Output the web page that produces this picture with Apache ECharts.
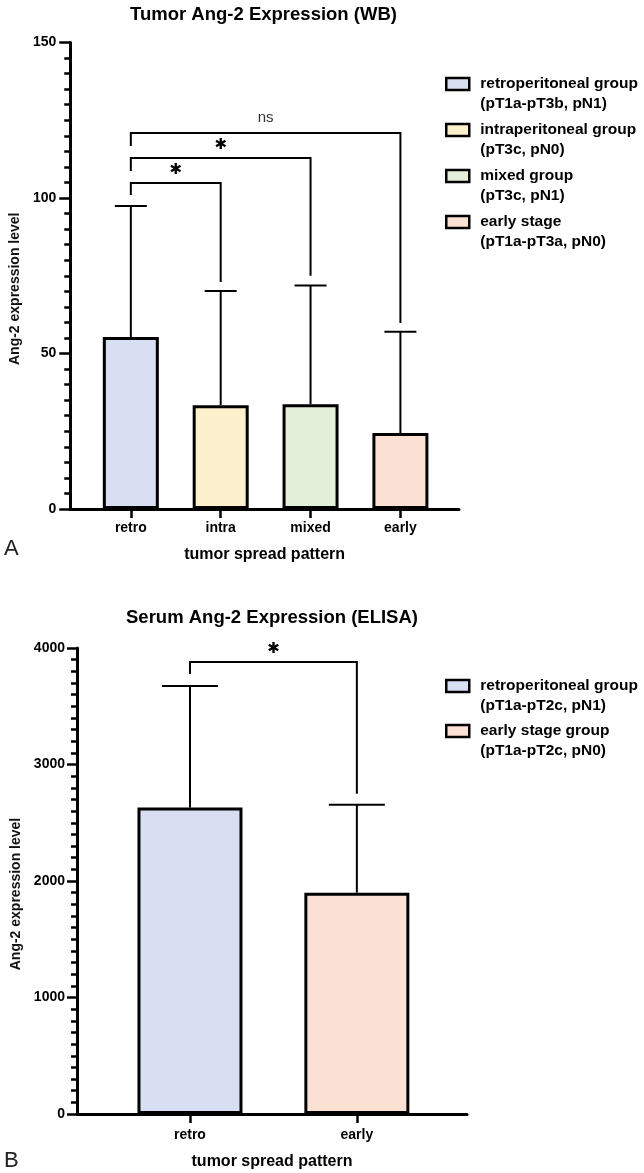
<!DOCTYPE html>
<html>
<head>
<meta charset="utf-8">
<script src="https://cdn.jsdelivr.net/npm/echarts@6/dist/echarts.min.js"></script>
<style>
html, body { margin: 0; padding: 0; background: #fff; }
#chart { width: 644px; height: 1173px; }
</style>
</head>
<body>
<div id="chart"></div>
<script>
// panel A - tumor Ang-2 (WB)
const wbGroups = ['retro', 'intra', 'mixed', 'early']
const wbNames = ['retroperitoneal group', 'intraperitoneal group', 'mixed group', 'early stage']
const wbStages = ['(pT1a-pT3b, pN1)', '(pT3c, pN0)', '(pT3c, pN1)', '(pT1a-pT3a, pN0)']
const wbMean = [55.3, 33.4, 33.7, 24.4]
const wbUpper = [97.4, 70.1, 71.9, 57.0]
const wbYTicks = [0, 50, 100, 150]
// from, to, bracket level, left leg end, right leg end
const wbBrackets = [
    [0, 1, 104.8, 101.0, 73.0],
    [0, 2, 112.9, 108.7, 75.0],
    [0, 3, 120.9, 116.7, 59.8]
]
const wbMarks = ['*', '*', 'ns']

// panel B - serum Ang-2 (ELISA)
const elGroups = ['retro', 'early']
const elNames = ['retroperitoneal group', 'early stage group']
const elStages = ['(pT1a-pT2c, pN1)', '(pT1a-pT2c, pN0)']
const elMean = [2630, 1900]
const elUpper = [3674, 2655]
const elYTicks = [0, 1000, 2000, 3000, 4000]
const elBrackets = [
    [0, 1, 3880, 3777, 2750]
]
const elMarks = ['*']

const wbFills = ['#d9dff2', '#fdf1cd', '#e3efd9', '#fbe1d4']
const elFills = ['#d9dff2', '#fbe1d4']

const FONT = 'Liberation Sans, Arial, Helvetica, sans-serif'

function xAxis(gridIndex, cats, min, max, labelMargin, nameGap) {
    const idx = cats.map((c, i) => i)
    return {
        type: 'value', gridIndex: gridIndex, min: min, max: max,
        splitLine: { show: false },
        axisLine: { show: true, onZero: false, lineStyle: { color: '#000', width: 3 } },
        axisTick: { show: true, customValues: idx, length: 9, lineStyle: { color: '#000', width: 2.5 } },
        axisLabel: {
            customValues: idx, formatter: v => cats[v], margin: labelMargin,
            color: '#000', fontWeight: 'bold', fontSize: 14, fontFamily: FONT
        },
        name: 'tumor spread pattern', nameLocation: 'middle', nameGap: nameGap,
        nameTextStyle: { color: '#000', fontWeight: 'bold', fontSize: 16, fontFamily: FONT }
    }
}

function yAxis(gridIndex, ticks, fontSize, tickLen, labelMargin, nameGap) {
    return {
        type: 'value', gridIndex: gridIndex,
        min: ticks[0], max: ticks[ticks.length - 1], interval: ticks[1] - ticks[0],
        splitLine: { show: false },
        axisLine: { show: true, onZero: false, lineStyle: { color: '#000', width: 3 } },
        axisTick: { show: true, length: tickLen, lineStyle: { color: '#000', width: 2.5 } },
        minorTick: { show: true, splitNumber: 10, length: 6, lineStyle: { color: '#000', width: 2.5 } },
        axisLabel: {
            margin: labelMargin, formatter: v => String(v),
            color: '#000', fontWeight: 'bold', fontSize: fontSize, fontFamily: FONT
        },
        name: 'Ang-2 expression level', nameLocation: 'middle', nameGap: nameGap,
        nameTextStyle: { color: '#111', fontWeight: 'bold', fontSize: 14, fontFamily: FONT, padding: [0, 26, 0, 0] }
    }
}

function barSeries(axisIndex, names, means, fills, width) {
    return names.map((n, i) => ({
        type: 'bar', name: n, xAxisIndex: axisIndex, yAxisIndex: axisIndex,
        barWidth: width, barGap: '-100%',
        data: [[i, means[i]]],
        itemStyle: { color: fills[i], borderColor: '#000', borderWidth: 3 },
        silent: true
    }))
}

function errorSeries(axisIndex, means, upper, capHalf) {
    return {
        type: 'custom', xAxisIndex: axisIndex, yAxisIndex: axisIndex, silent: true, z: 3,
        data: means.map((m, i) => [i, m, upper[i]]),
        renderItem: function (params, api) {
            const base = api.coord([api.value(0), api.value(1)])
            const top = api.coord([api.value(0), api.value(2)])
            const st = { stroke: '#000', lineWidth: 2 }
            return {
                type: 'group', children: [
                    { type: 'line', shape: { x1: base[0], y1: base[1], x2: top[0], y2: top[1] }, style: st },
                    { type: 'line', shape: { x1: top[0] - capHalf, y1: top[1], x2: top[0] + capHalf, y2: top[1] }, style: st }
                ]
            }
        }
    }
}

function bracketSeries(axisIndex, brackets, marks) {
    return {
        type: 'custom', xAxisIndex: axisIndex, yAxisIndex: axisIndex, silent: true, z: 4,
        data: brackets,
        renderItem: function (params, api) {
            const x0 = api.value(0), x1 = api.value(1), lvl = api.value(2)
            const p1 = api.coord([x0, api.value(3)])
            const p2 = api.coord([x0, lvl])
            const p3 = api.coord([x1, lvl])
            const p4 = api.coord([x1, api.value(4)])
            const mark = marks[params.dataIndex]
            const star = mark === '*'
            return {
                type: 'group', children: [
                    { type: 'polyline', shape: { points: [p1, p2, p3, p4] }, style: { stroke: '#000', lineWidth: 2, fill: null } },
                    {
                        type: 'text', x: (p2[0] + p3[0]) / 2, y: p2[1] - (star ? 13 : 15),
                        style: {
                            text: star ? '\u2731' : mark, align: 'center', verticalAlign: 'middle',
                            fill: star ? '#000' : '#333',
                            font: star ? 'bold 15px DejaVu Sans' : '15px ' + FONT
                        }
                    }
                ]
            }
        }
    }
}

function legend(names, stages, top, gap) {
    return {
        data: names, orient: 'vertical', left: 445, top: top, padding: 0, itemGap: gap,
        itemWidth: 23, itemHeight: 12, icon: 'rect', selectedMode: false,
        itemStyle: { borderColor: '#000', borderWidth: 2.5 },
        formatter: n => '\n' + n + '\n' + stages[names.indexOf(n)],
        textStyle: { color: '#000', fontWeight: 'bold', fontSize: 15.5, lineHeight: 20, fontFamily: FONT, padding: [0, 0, 0, 6] }
    }
}

const titleStyle = { color: '#000', fontWeight: 'bold', fontSize: 18.5, fontFamily: FONT }
const panelStyle = { color: '#222', fontWeight: 'normal', fontSize: 22, fontFamily: FONT }

const option = {
    animation: false,
    backgroundColor: '#fff',
    title: [
        { text: 'Tumor Ang-2 Expression (WB)', left: 263.5, top: 5, textAlign: 'center', padding: 0, textStyle: titleStyle },
        { text: 'Serum Ang-2 Expression (ELISA)', left: 272, top: 608, textAlign: 'center', padding: 0, textStyle: titleStyle },
        { text: 'A', left: 4, top: 538, padding: 0, textStyle: panelStyle },
        { text: 'B', left: 4, top: 1150, padding: 0, textStyle: panelStyle }
    ],
    legend: [
        legend(wbNames, wbStages, 54, -14),
        legend(elNames, elStages, 656, -15)
    ],
    grid: [
        { left: 68, top: 42.5, width: 391, height: 466.5 },
        { left: 77, top: 648, width: 390, height: 466 }
    ],
    xAxis: [
        xAxis(0, wbGroups, -0.674, 3.652, 12, 38),
        xAxis(1, elGroups, -0.677, 1.66, 14, 40)
    ],
    yAxis: [
        yAxis(0, wbYTicks, 14, 11, 14, 44),
        yAxis(1, elYTicks, 14, 10, 12, 53)
    ],
    series: [].concat(
        barSeries(0, wbNames, wbMean, wbFills, 56),
        [errorSeries(0, wbMean, wbUpper, 16), bracketSeries(0, wbBrackets, wbMarks)],
        barSeries(1, elNames, elMean, elFills, 105),
        [errorSeries(1, elMean, elUpper, 28), bracketSeries(1, elBrackets, elMarks)]
    )
}

const chart = echarts.init(document.getElementById('chart'))
chart.setOption(option)
</script>
</body>
</html>
